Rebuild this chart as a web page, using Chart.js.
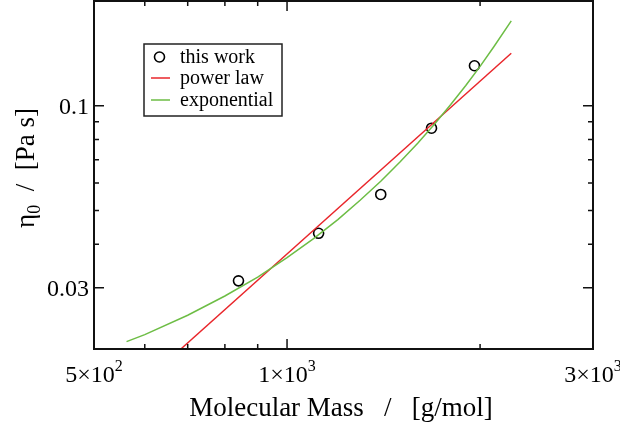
<!DOCTYPE html>
<html><head><meta charset="utf-8">
<script src="https://cdn.jsdelivr.net/npm/chart.js@4/dist/chart.umd.min.js"></script>
<style>html,body{margin:0;padding:0;background:#fff;overflow:hidden}#wrap{width:620px;height:428px}</style>
</head><body><div id="wrap"><canvas id="c" width="620" height="428"></canvas></div>
<script>
// ---- data ----
const measuredMass = [840, 1120, 1400, 1680, 1960];
const measuredViscosity = [0.0314, 0.0430, 0.0556, 0.0862, 0.1303];
const powerLawMass = [683, 2237];
const powerLawViscosity = [0.02, 0.1415];
const exponentialMass = [562, 600, 700, 800, 900, 1000, 1100, 1200, 1300, 1400, 1500, 1600, 1700, 1800, 1900, 2000, 2100, 2237];
const exponentialViscosity = [0.0210, 0.0220, 0.0250, 0.0284, 0.0322, 0.0366, 0.0415, 0.0471, 0.0535, 0.0607, 0.0689, 0.0782, 0.0888, 0.1008, 0.1144, 0.1298, 0.1475, 0.1754];
const seriesNames = ["this work", "power law", "exponential"];
const xMajorTicks = [500, 1000, 3000];
const xTickMantissa = ["5", "1", "3"];
const xTickExponent = ["2", "3", "3"];
const xMinorTicks = [600, 700, 800, 900, 2000];
const yMajorTicks = [0.03, 0.1];
const yTickLabels = ["0.03", "0.1"];
const yMinorTicks = [0.04, 0.05, 0.06, 0.07, 0.08, 0.09];
const xTitle = "Molecular Mass   /   [g/mol]";
const yTitleSymbol = "η";
const yTitleSub = "0";
const yTitleRest = "  /  [Pa s]";

const FONT = '"Liberation Serif", "Times New Roman", serif';
const RED = '#e9262b', GREEN = '#6dbd45';

function pts(xs, ys) { return xs.map((x, i) => ({x, y: ys[i]})); }

function drawRuns(ctx, runs, x, y, align) {
  let total = 0;
  runs.forEach(r => { ctx.font = r.size + 'px ' + FONT; r.w = ctx.measureText(r.text).width; total += r.w; });
  let cx = align === 'center' ? x - total / 2 : align === 'right' ? x - total : x;
  ctx.textAlign = 'left'; ctx.textBaseline = 'alphabetic';
  runs.forEach(r => { ctx.font = r.size + 'px ' + FONT; ctx.fillText(r.text, cx, y + (r.dy || 0)); cx += r.w; });
}

const framePlugin = {
  id: 'frame',
  afterDraw(chart) {
    const ctx = chart.ctx, a = chart.chartArea, xs = chart.scales.x, ys = chart.scales.y;
    ctx.save();
    ctx.strokeStyle = '#111'; ctx.fillStyle = '#111';
    ctx.lineWidth = 1.5;
    const tick = (px, len, horiz) => {
      ctx.beginPath();
      if (horiz) {
        ctx.moveTo(px, a.bottom); ctx.lineTo(px, a.bottom - len);
        ctx.moveTo(px, a.top); ctx.lineTo(px, a.top + len);
      } else {
        ctx.moveTo(a.left, px); ctx.lineTo(a.left + len, px);
        ctx.moveTo(a.right, px); ctx.lineTo(a.right - len, px);
      }
      ctx.stroke();
    };
    xMajorTicks.forEach(v => tick(xs.getPixelForValue(v), 10, true));
    xMinorTicks.forEach(v => tick(xs.getPixelForValue(v), 5, true));
    yMajorTicks.forEach(v => tick(ys.getPixelForValue(v), 10, false));
    yMinorTicks.forEach(v => tick(ys.getPixelForValue(v), 5, false));
    ctx.lineWidth = 2;
    ctx.strokeRect(a.left, a.top, a.right - a.left, a.bottom - a.top);
    ctx.fillStyle = '#000';
    xMajorTicks.forEach((v, i) => {
      drawRuns(ctx, [{text: xTickMantissa[i] + '×10', size: 24}, {text: xTickExponent[i], size: 16, dy: -11}],
        xs.getPixelForValue(v), 382, 'center');
    });
    yMajorTicks.forEach((v, i) => {
      drawRuns(ctx, [{text: yTickLabels[i], size: 24}], 89, ys.getPixelForValue(v) + 8, 'right');
    });
    drawRuns(ctx, [{text: xTitle, size: 27}], 341, 416, 'center');
    ctx.save();
    ctx.translate(34, 168); ctx.rotate(-Math.PI / 2);
    drawRuns(ctx, [{text: yTitleSymbol, size: 27}, {text: yTitleSub, size: 18, dy: 6}, {text: yTitleRest, size: 27}], 0, 0, 'center');
    ctx.restore();
    const lx = 144, ly = 44, lw = 138, lh = 72;
    ctx.fillStyle = '#fff'; ctx.fillRect(lx, ly, lw, lh);
    ctx.lineWidth = 1.5; ctx.strokeStyle = '#222'; ctx.strokeRect(lx, ly, lw, lh);
    const rows = [57, 78, 100];
    ctx.lineWidth = 1.6; ctx.strokeStyle = '#000';
    ctx.beginPath(); ctx.arc(159.5, rows[0], 5, 0, Math.PI * 2); ctx.stroke();
    ctx.lineWidth = 1.5;
    ctx.strokeStyle = RED; ctx.beginPath(); ctx.moveTo(151, rows[1]); ctx.lineTo(170, rows[1]); ctx.stroke();
    ctx.strokeStyle = GREEN; ctx.beginPath(); ctx.moveTo(151, rows[2]); ctx.lineTo(170, rows[2]); ctx.stroke();
    ctx.fillStyle = '#000';
    seriesNames.forEach((n, i) => drawRuns(ctx, [{text: n, size: 20}], 180, rows[i] + 6, 'left'));
    ctx.restore();
  }
};

new Chart(document.getElementById('c'), {
  type: 'scatter',
  data: {
    datasets: [
      {label: seriesNames[2], data: pts(exponentialMass, exponentialViscosity), showLine: true, borderColor: GREEN, borderWidth: 1.5, pointRadius: 0, tension: 0},
      {label: seriesNames[1], data: pts(powerLawMass, powerLawViscosity), showLine: true, borderColor: RED, borderWidth: 1.5, pointRadius: 0},
      {label: seriesNames[0], data: pts(measuredMass, measuredViscosity), showLine: false, pointRadius: 5, pointHoverRadius: 5, borderColor: '#000', backgroundColor: 'rgba(0,0,0,0)', borderWidth: 1.6}
    ]
  },
  options: {
    responsive: false, animation: false, devicePixelRatio: 1,
    layout: {autoPadding: false, padding: {left: 94, right: 27, top: 1, bottom: 79}},
    plugins: {legend: {display: false}, tooltip: {enabled: false}},
    events: [],
    scales: {
      x: {type: 'logarithmic', min: 500, max: 3000, display: false},
      y: {type: 'logarithmic', min: 0.02, max: 0.2, display: false}
    }
  },
  plugins: [framePlugin]
});
</script>
</body></html>
